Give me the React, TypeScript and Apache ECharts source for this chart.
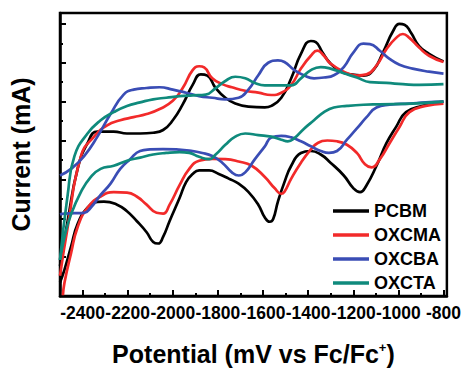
import React, { useEffect, useRef } from "react";
import * as echarts from "echarts";

type Pt = [number, number];

const seriesNames = ["PCBM", "OXCMA", "OXCBA", "OXCTA"];
const seriesColors = ["#000000", "#f22a2a", "#3a4db5", "#0f8a7c"];

const xTickLabels = [-2400, -2200, -2000, -1800, -1600, -1400, -1200, -1000, -800];
const xMinorTicks = [-2500, -2300, -2100, -1900, -1700, -1500, -1300, -1100, -900];

// Potential (mV vs Fc/Fc+), current (arbitrary units)
const pcbmUpper: Pt[] = [
  [-2500, 0.77], [-2466, 1.93], [-2422, 3.27], [-2378, 3.93], [-2334, 4.23], [-2262, 4.23],
  [-2203, 4.18], [-2145, 4.18], [-2087, 4.2], [-2043, 4.27], [-2000, 4.52], [-1956, 4.93],
  [-1912, 5.43], [-1876, 5.7], [-1847, 5.67], [-1810, 5.35], [-1767, 5.1], [-1723, 4.95],
  [-1665, 4.87], [-1592, 4.85], [-1563, 4.89], [-1519, 5.1], [-1475, 5.6], [-1432, 6.23],
  [-1388, 6.56], [-1366, 6.53], [-1337, 6.27], [-1301, 5.98], [-1257, 5.78], [-1213, 5.7],
  [-1155, 5.67], [-1111, 5.81], [-1068, 6.27], [-1024, 6.81], [-995, 7.0], [-973, 6.98],
  [-944, 6.77], [-908, 6.43], [-864, 6.23], [-800, 6.03],
];
const pcbmLower: Pt[] = [
  [-800, 5.0], [-893, 4.89], [-966, 4.73], [-1010, 4.35], [-1053, 3.93], [-1097, 3.35],
  [-1141, 2.85], [-1170, 2.67], [-1199, 2.77], [-1242, 3.1], [-1301, 3.43], [-1344, 3.64],
  [-1388, 3.73], [-1432, 3.68], [-1475, 3.35], [-1505, 2.93], [-1534, 2.43], [-1555, 1.98],
  [-1570, 1.91], [-1592, 2.02], [-1621, 2.35], [-1665, 2.68], [-1708, 2.89], [-1752, 3.02],
  [-1796, 3.14], [-1839, 3.23], [-1883, 3.23], [-1912, 3.14], [-1941, 2.93], [-1970, 2.52],
  [-2014, 1.93], [-2043, 1.52], [-2065, 1.35], [-2087, 1.39], [-2116, 1.64], [-2160, 1.93],
  [-2203, 2.18], [-2247, 2.35], [-2305, 2.43], [-2334, 2.42], [-2378, 2.27], [-2422, 1.85],
  [-2451, 1.27], [-2480, 0.68], [-2500, 0.35],
];
const oxcmaUpper: Pt[] = [
  [-2500, 0.52], [-2466, 1.77], [-2407, 3.6], [-2349, 4.1], [-2291, 4.39], [-2233, 4.52],
  [-2174, 4.6], [-2116, 4.68], [-2058, 4.81], [-2000, 5.02], [-1956, 5.35], [-1912, 5.81],
  [-1883, 5.91], [-1861, 5.88], [-1825, 5.6], [-1781, 5.45], [-1738, 5.37], [-1679, 5.28],
  [-1621, 5.23], [-1563, 5.17], [-1519, 5.23], [-1475, 5.43], [-1432, 5.85], [-1388, 6.18],
  [-1359, 6.31], [-1330, 6.18], [-1301, 5.98], [-1242, 5.77], [-1184, 5.67], [-1141, 5.7],
  [-1097, 5.93], [-1053, 6.35], [-1010, 6.64], [-980, 6.74], [-951, 6.64], [-908, 6.39],
  [-864, 6.18], [-800, 6.02],
];
const oxcmaLower: Pt[] = [
  [-800, 4.95], [-879, 4.89], [-951, 4.73], [-995, 4.35], [-1039, 3.93], [-1082, 3.52],
  [-1119, 3.31], [-1148, 3.39], [-1184, 3.68], [-1228, 3.89], [-1272, 3.98], [-1315, 4.0],
  [-1359, 3.93], [-1388, 3.77], [-1432, 3.43], [-1475, 3.02], [-1505, 2.68], [-1519, 2.63],
  [-1548, 2.77], [-1592, 3.06], [-1650, 3.35], [-1708, 3.46], [-1767, 3.52], [-1825, 3.53],
  [-1883, 3.48], [-1927, 3.27], [-1970, 2.85], [-2014, 2.35], [-2043, 2.12], [-2072, 2.14],
  [-2116, 2.35], [-2160, 2.56], [-2203, 2.66], [-2262, 2.67], [-2320, 2.56], [-2378, 2.27],
  [-2422, 1.77], [-2451, 1.1], [-2480, 0.35], [-2487, 0.02],
];
const oxcbaUpper: Pt[] = [
  [-2500, 3.1], [-2451, 3.27], [-2393, 3.6], [-2334, 4.1], [-2276, 4.68], [-2218, 5.18],
  [-2174, 5.31], [-2116, 5.35], [-2058, 5.37], [-2000, 5.31], [-1941, 5.23], [-1883, 5.14],
  [-1825, 5.1], [-1767, 5.06], [-1708, 5.1], [-1665, 5.31], [-1621, 5.68], [-1577, 6.0],
  [-1534, 6.06], [-1505, 6.02], [-1461, 5.81], [-1417, 5.67], [-1374, 5.6], [-1330, 5.62],
  [-1286, 5.68], [-1242, 5.89], [-1199, 6.27], [-1155, 6.49], [-1126, 6.48], [-1082, 6.31],
  [-1039, 6.1], [-995, 5.95], [-937, 5.85], [-864, 5.77], [-800, 5.72],
];
const oxcbaLower: Pt[] = [
  [-800, 5.0], [-879, 4.98], [-951, 4.95], [-1039, 4.92], [-1097, 4.85], [-1141, 4.6],
  [-1184, 4.31], [-1228, 4.02], [-1272, 3.73], [-1308, 3.68], [-1344, 3.73], [-1388, 3.85],
  [-1432, 3.98], [-1475, 4.08], [-1519, 4.12], [-1563, 4.08], [-1592, 3.85], [-1636, 3.52],
  [-1679, 3.18], [-1708, 3.1], [-1738, 3.18], [-1781, 3.43], [-1825, 3.6], [-1869, 3.68],
  [-1927, 3.74], [-1985, 3.77], [-2043, 3.78], [-2101, 3.77], [-2145, 3.73], [-2189, 3.52],
  [-2233, 3.27], [-2276, 2.89], [-2320, 2.6], [-2364, 2.27], [-2393, 2.14], [-2436, 2.13],
  [-2480, 2.12], [-2500, 2.1],
];
const oxctaUpper: Pt[] = [
  [-2500, 0.93], [-2466, 2.6], [-2436, 3.6], [-2378, 4.18], [-2320, 4.52], [-2262, 4.73],
  [-2203, 4.89], [-2145, 4.98], [-2087, 5.06], [-2029, 5.1], [-1970, 5.14], [-1912, 5.16],
  [-1854, 5.18], [-1810, 5.35], [-1767, 5.53], [-1723, 5.64], [-1679, 5.6], [-1636, 5.48],
  [-1592, 5.42], [-1534, 5.42], [-1475, 5.42], [-1432, 5.6], [-1388, 5.81], [-1344, 5.89],
  [-1301, 5.85], [-1242, 5.73], [-1184, 5.62], [-1126, 5.5], [-1053, 5.48], [-980, 5.45],
  [-908, 5.43], [-800, 5.45],
];
const oxctaLower: Pt[] = [
  [-800, 5.0], [-937, 4.95], [-1082, 4.93], [-1155, 4.92], [-1228, 4.89], [-1286, 4.85],
  [-1330, 4.73], [-1374, 4.52], [-1417, 4.31], [-1461, 4.06], [-1490, 3.98], [-1519, 4.02],
  [-1563, 4.1], [-1621, 4.14], [-1679, 4.18], [-1723, 4.1], [-1767, 3.89], [-1810, 3.64],
  [-1839, 3.52], [-1883, 3.58], [-1927, 3.68], [-1970, 3.7], [-2029, 3.68], [-2087, 3.64],
  [-2145, 3.56], [-2203, 3.48], [-2262, 3.35], [-2320, 3.27], [-2364, 3.06], [-2407, 2.68],
  [-2451, 2.1], [-2480, 1.52], [-2500, 0.93],
];

const branches: Pt[][][] = [
  [pcbmUpper, pcbmLower],
  [oxcmaUpper, oxcmaLower],
  [oxcbaUpper, oxcbaLower],
  [oxctaUpper, oxctaLower],
];

const FONT = 'Arial, "Liberation Sans", Helvetica, sans-serif';

export default function App() {
  const ref = useRef<HTMLDivElement>(null);
  useEffect(() => {
    if (!ref.current) return;
    const chart = echarts.init(ref.current, undefined, { renderer: "svg" });
    const series: any[] = [];
    branches.forEach((pair, i) => {
      pair.forEach((data) => {
        series.push({
          type: "line",
          name: seriesNames[i],
          data,
          xAxisIndex: 0,
          yAxisIndex: 0,
          showSymbol: false,
          symbol: "none",
          smooth: 0.5,
          lineStyle: { color: seriesColors[i], width: 2.7 },
          itemStyle: { color: seriesColors[i] },
          emphasis: { disabled: true },
          silent: true,
        });
      });
    });
    chart.setOption({
      animation: false,
      backgroundColor: "#ffffff",
      textStyle: { fontFamily: FONT },
      grid: {
        left: 59,
        right: 12,
        top: 13,
        bottom: 67,
        show: true,
        borderColor: "#000",
        borderWidth: 2.5,
      },
      legend: {
        data: seriesNames.map((n, i) => ({ name: n, icon: "rect", itemStyle: { color: seriesColors[i] } })),
        orient: "vertical",
        left: 328,
        top: 197,
        padding: 5,
        itemWidth: 36,
        itemHeight: 3.5,
        itemGap: 6,
        textStyle: {
          fontFamily: FONT,
          fontSize: 18,
          lineHeight: 18,
          fontWeight: "bold",
          color: "#000",
        },
      },
      xAxis: [
        {
          type: "value",
          min: -2500,
          max: -785,
          position: "bottom",
          name: "Potential (mV vs Fc/Fc{sup|+})",
          nameLocation: "middle",
          nameGap: 45,
          nameTextStyle: {
            fontFamily: FONT,
            fontSize: 25,
            fontWeight: "bold",
            color: "#000",
            rich: {
              sup: {
                fontFamily: FONT,
                fontSize: 13,
                fontWeight: "bold",
                color: "#000",
                verticalAlign: "top",
                padding: [0, 0, 12, 0],
              },
            },
          },
          axisLine: { show: true, lineStyle: { color: "#000", width: 2.5 } },
          axisTick: {
            show: true,
            inside: true,
            length: 6,
            customValues: xTickLabels,
            lineStyle: { color: "#000", width: 2 },
          },
          axisLabel: {
            show: true,
            customValues: xTickLabels,
            hideOverlap: false,
            showMinLabel: true,
            showMaxLabel: true,
            margin: 8,
            fontFamily: FONT,
            fontSize: 17.5,
            fontWeight: "bold",
            color: "#000",
            formatter: (v: number) => String(v),
          },
          splitLine: { show: false },
        },
        {
          type: "value",
          min: -2500,
          max: -785,
          position: "bottom",
          axisLine: { show: false },
          axisTick: {
            show: true,
            inside: true,
            length: 3,
            customValues: xMinorTicks,
            lineStyle: { color: "#000", width: 2 },
          },
          axisLabel: { show: false },
          splitLine: { show: false },
        },
      ],
      yAxis: {
        type: "value",
        min: 0,
        max: 7.28,
        interval: 1,
        name: "Current (mA)",
        nameLocation: "middle",
        nameGap: 27,
        nameTextStyle: {
          fontFamily: FONT,
          fontSize: 25,
          fontWeight: "bold",
          color: "#000",
        },
        axisLine: { show: true, lineStyle: { color: "#000", width: 2.5 } },
        axisTick: {
          show: true,
          inside: true,
          length: 6,
          lineStyle: { color: "#000", width: 2 },
        },
        minorTick: {
          show: true,
          splitNumber: 2,
          length: 3,
          lineStyle: { color: "#000", width: 2 },
        },
        axisLabel: { show: false },
        splitLine: { show: false },
        minorSplitLine: { show: false },
      },
      series,
    });
    return () => chart.dispose();
  }, []);
  return (
    <div
      ref={ref}
      style={{ position: "fixed", left: 0, top: 0, width: 464, height: 371, background: "#fff" }}
    />
  );
}
